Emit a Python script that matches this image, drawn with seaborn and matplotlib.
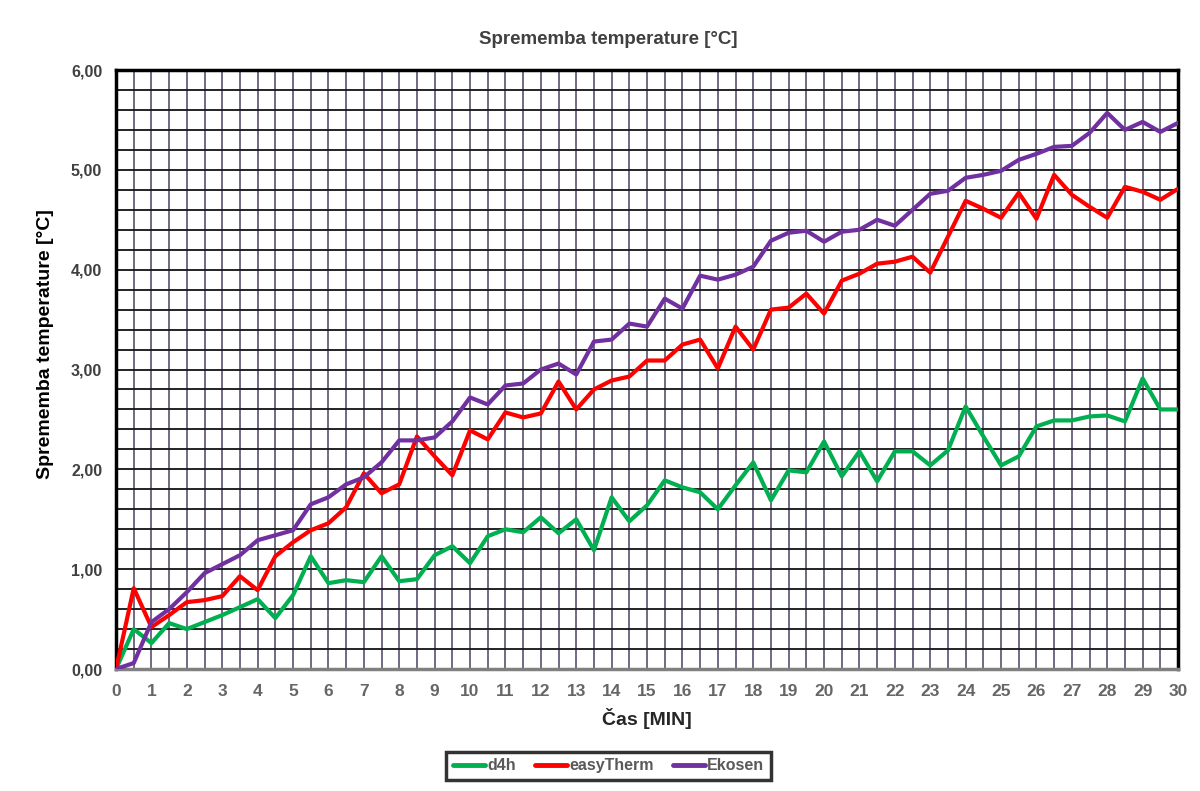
import numpy as np
import pandas as pd
import seaborn as sns
import matplotlib
matplotlib.use("Agg")
import matplotlib.pyplot as plt
from matplotlib.ticker import FuncFormatter, MultipleLocator

# ---- data ----
time_min = [i * 0.5 for i in range(61)]

d4h = [0.00, 0.40, 0.26, 0.46, 0.40, 0.47, 0.54, 0.62, 0.70, 0.51,
       0.74, 1.13, 0.86, 0.89, 0.87, 1.13, 0.88, 0.90, 1.14, 1.23,
       1.06, 1.33, 1.40, 1.37, 1.52, 1.36, 1.50, 1.19, 1.72, 1.48,
       1.64, 1.89, 1.82, 1.77, 1.60, 1.84, 2.07, 1.69, 1.99, 1.97,
       2.28, 1.93, 2.18, 1.88, 2.18, 2.18, 2.04, 2.19, 2.63, 2.33,
       2.04, 2.13, 2.43, 2.49, 2.49, 2.53, 2.54, 2.48, 2.91, 2.60,
       2.60]

easytherm = [0.00, 0.81, 0.42, 0.54, 0.67, 0.69, 0.73, 0.93, 0.79, 1.13,
             1.27, 1.39, 1.46, 1.62, 1.96, 1.76, 1.85, 2.33, 2.13, 1.94,
             2.39, 2.30, 2.57, 2.52, 2.56, 2.88, 2.60, 2.80, 2.89, 2.93,
             3.09, 3.09, 3.25, 3.30, 3.01, 3.43, 3.20, 3.60, 3.62, 3.76,
             3.56, 3.89, 3.96, 4.06, 4.08, 4.13, 3.97, 4.33, 4.69, 4.61,
             4.52, 4.77, 4.51, 4.95, 4.75, 4.63, 4.52, 4.83, 4.78, 4.70,
             4.81]

ekosen = [0.00, 0.06, 0.47, 0.60, 0.77, 0.96, 1.05, 1.14, 1.29, 1.34,
          1.39, 1.65, 1.72, 1.85, 1.92, 2.07, 2.29, 2.29, 2.32, 2.48,
          2.72, 2.65, 2.84, 2.86, 3.00, 3.06, 2.95, 3.28, 3.30, 3.46,
          3.43, 3.71, 3.61, 3.94, 3.90, 3.95, 4.03, 4.29, 4.37, 4.39,
          4.28, 4.38, 4.40, 4.50, 4.44, 4.60, 4.76, 4.79, 4.92, 4.95,
          4.99, 5.10, 5.16, 5.23, 5.24, 5.37, 5.57, 5.40, 5.48, 5.38,
          5.47]

series_names = ["d4h", "easyTherm", "Ekosen"]
series_colors = ["#00b050", "#ff0000", "#7030a0"]

x_tick_labels = [str(i) for i in range(31)]
y_tick_values = [0, 1, 2, 3, 4, 5, 6]

title = "Sprememba temperature [°C]"
y_label = "Sprememba temperature [°C]"
x_label = "Čas [MIN]"

df = pd.DataFrame({
    "t": time_min * 3,
    "v": d4h + easytherm + ekosen,
    "s": [series_names[0]] * 61 + [series_names[1]] * 61 + [series_names[2]] * 61,
})

sns.set_style("white")
plt.rcParams["font.family"] = ["Liberation Sans", "DejaVu Sans"]

fig = plt.figure(figsize=(12, 7.91), dpi=100)
ax = fig.add_axes([0.0967, 0.1542, 0.885, 0.7573])

# grid
ax.set_xlim(0, 30)
ax.set_ylim(0, 6)
ax.xaxis.set_minor_locator(MultipleLocator(0.5))
ax.yaxis.set_minor_locator(MultipleLocator(0.2))
ax.set_xticks(range(31))
ax.set_xticklabels(x_tick_labels)
ax.set_yticks(y_tick_values)
ax.yaxis.set_major_formatter(FuncFormatter(lambda v, p: f"{v:.2f}".replace(".", ",")))
ax.grid(True, which="both", axis="x", color="#54476a", linewidth=1.15, zorder=0)
ax.grid(True, which="both", axis="y", color="#1a1a1a", linewidth=1.35, zorder=0)
ax.set_axisbelow(True)

sns.lineplot(data=df, x="t", y="v", hue="s", palette=series_colors,
             linewidth=3.0, ax=ax, legend=False, zorder=3)

for side in ["left", "right", "top"]:
    ax.spines[side].set_color("black")
    ax.spines[side].set_linewidth(2.5)
ax.spines["bottom"].set_color("#808080")
ax.spines["bottom"].set_linewidth(2.5)

ax.tick_params(axis="both", which="both", length=0)
ax.tick_params(axis="x", pad=11, labelsize=12.5, labelcolor="#666666")
ax.tick_params(axis="y", pad=10, labelsize=11.5, labelcolor="#404040")
for lab in ax.get_xticklabels() + ax.get_yticklabels():
    lab.set_fontweight("bold")

ax.set_xlabel(x_label, fontsize=14, fontweight="bold", color="#262626", labelpad=6)
ax.set_ylabel("")
fig.text(0.038, 0.565, y_label, rotation=90, ha="center", va="center",
         fontsize=14, fontweight="bold", color="black")
fig.text(0.507, 0.950, title, ha="center", va="center", fontsize=13.5,
         fontweight="bold", color="#404040")

handles = [plt.Line2D([], [], color=c, linewidth=3.5) for c in series_colors]
leg = fig.legend(handles, series_names, loc="center", bbox_to_anchor=(0.507, 0.032),
                 ncol=3, frameon=True, fancybox=False, fontsize=11.5,
                 handlelength=2.0, handletextpad=0.15, columnspacing=1.2,
                 borderpad=0.4, edgecolor="black")
leg.get_frame().set_linewidth(2.5)
for t in leg.get_texts():
    t.set_fontweight("bold")
    t.set_color("#595959")

fig.savefig("out.png", dpi=100)
